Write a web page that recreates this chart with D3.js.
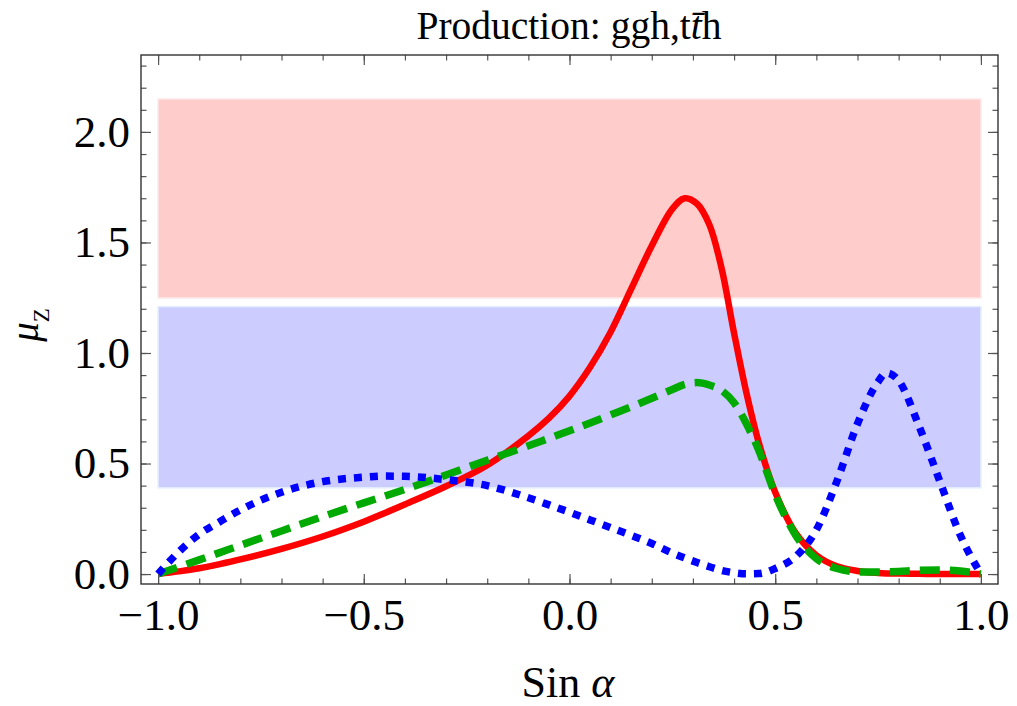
<!DOCTYPE html>
<html>
<head>
<meta charset="utf-8">
<script src="https://cdn.jsdelivr.net/npm/d3@7"></script>
<style>
  html, body { margin: 0; padding: 0; background: #fff; }
  svg { display: block; }
  text { font-family: 'Liberation Serif', 'Times New Roman', serif; fill: #000; }
</style>
</head>
<body>
<div id="chart"></div>
<script>
// shared x grid (Sin α) and the three curves
const sinAlpha = [-1, -0.95, -0.9, -0.85, -0.8, -0.7, -0.6, -0.5, -0.45, -0.4, -0.3, -0.2, -0.1, -0.05, 0,
  0.05, 0.1, 0.15, 0.2, 0.25, 0.28, 0.31, 0.34, 0.37, 0.4, 0.43, 0.46, 0.5, 0.55, 0.6, 0.65,
  0.7, 0.75, 0.77, 0.8, 0.85, 0.9, 0.95, 1]

const muRed = [0, 0.012, 0.026, 0.045, 0.066, 0.114, 0.17, 0.237, 0.275, 0.315, 0.397, 0.492, 0.625, 0.705, 0.805,
  0.935, 1.095, 1.29, 1.485, 1.652, 1.70, 1.675, 1.58, 1.38, 1.09, 0.82, 0.595, 0.37, 0.185, 0.085, 0.035,
  0.014, 0.005, 0.003, 0.002, 0.001, 0, 0, 0]

const muGreen = [0, 0.032, 0.064, 0.097, 0.13, 0.195, 0.26, 0.322, 0.352, 0.383, 0.448, 0.515, 0.58, 0.614, 0.648,
  0.683, 0.72, 0.757, 0.795, 0.835, 0.858, 0.866, 0.855, 0.83, 0.775, 0.68, 0.56, 0.36, 0.175, 0.07, 0.025,
  0.01, 0.009, 0.01, 0.012, 0.017, 0.018, 0.014, 0]

const muBlue = [0, 0.10, 0.18, 0.237, 0.29, 0.37, 0.418, 0.438, 0.443, 0.442, 0.427, 0.40, 0.345, 0.313, 0.28,
  0.245, 0.21, 0.175, 0.138, 0.095, 0.073, 0.052, 0.033, 0.016, 0.006, 0.001, 0.002, 0.025, 0.08, 0.2, 0.42,
  0.68, 0.87, 0.91, 0.875, 0.667, 0.42, 0.175, 0]

// shaded bands: [low, high] in μ_Z, spanning Sin α from -1 to 1
const bandNames = ['upper', 'lower']
const bandLow   = [1.249, 0.39]
const bandHigh  = [2.149, 1.21]
const bandFill  = ['#ffcccc', '#ccccff']
const bandEdge  = ['#ffe6e6', '#e3eeff']

const xMajor = [-1, -0.5, 0, 0.5, 1]
const xMinor = d3.range(-10, 11).map(i => i / 10)
const yMajor = [0, 0.5, 1, 1.5, 2]
const yMinor = d3.range(0, 24).map(i => i / 10)

const W = 1017, H = 706
const frame = { left: 141, right: 998, top: 55, bottom: 584 }

const svg = d3.select('#chart').append('svg')
  .attr('width', W).attr('height', H)

const x = d3.scaleLinear().domain([-1.0415, 1.0415]).range([frame.left, frame.right])
const y = d3.scaleLinear().domain([-0.045, 2.348]).range([frame.bottom, frame.top])

// bands
svg.append('g').selectAll('rect')
  .data(bandNames)
  .join('rect')
  .attr('x', x(-1))
  .attr('width', x(1) - x(-1))
  .attr('y', (d, i) => y(bandHigh[i]))
  .attr('height', (d, i) => y(bandLow[i]) - y(bandHigh[i]))
  .attr('fill', (d, i) => bandFill[i])
  .attr('stroke', (d, i) => bandEdge[i])
  .attr('stroke-width', 1.5)

// curves
const rows = sinAlpha.map((s, i) => ({ s, red: muRed[i], green: muGreen[i], blue: muBlue[i] }))
const series = [
  { key: 'red',   color: '#ff0000', dash: null,    width: 6.5, curve: d3.curveCatmullRom.alpha(0.5) },
  { key: 'green', color: '#00aa00', dash: '20,10', width: 7.5, curve: d3.curveMonotoneX },
  { key: 'blue',  color: '#0000ff', dash: '8,8',   width: 7.5, curve: d3.curveMonotoneX }
]

svg.append('clipPath').attr('id', 'plot-clip')
  .append('rect')
  .attr('x', frame.left).attr('y', frame.top)
  .attr('width', frame.right - frame.left).attr('height', frame.bottom - frame.top)

const curves = svg.append('g').attr('clip-path', 'url(#plot-clip)')
series.forEach(sr => {
  const line = d3.line()
    .x(d => x(d.s))
    .y(d => y(d[sr.key]))
    .curve(sr.curve)
  curves.append('path')
    .datum(rows)
    .attr('d', line)
    .attr('fill', 'none')
    .attr('stroke', sr.color)
    .attr('stroke-width', sr.width)
    .attr('stroke-dasharray', sr.dash)
    .attr('stroke-linejoin', 'round')
})

// frame ticks (inward, all four sides)
const fmt = v => (v < 0 ? '\u2212' : '') + Math.abs(v).toFixed(1)
const tickStyle = ax => {
  ax.select('.domain').remove()
  ax.selectAll('line').attr('stroke', '#555').attr('stroke-width', 1.2)
  ax.selectAll('text').style('font-size', '45px').attr('fill', '#000')
}

svg.append('g').attr('transform', `translate(0,${frame.bottom})`)
  .call(d3.axisBottom(x).tickValues(xMinor).tickSize(-5.5).tickFormat(''))
  .call(tickStyle)
svg.append('g').attr('transform', `translate(0,${frame.bottom})`)
  .call(d3.axisBottom(x).tickValues(xMajor).tickSize(-10).tickPadding(14).tickFormat(fmt))
  .call(tickStyle)
svg.append('g').attr('transform', `translate(0,${frame.top})`)
  .call(d3.axisTop(x).tickValues(xMinor).tickSize(-5.5).tickFormat(''))
  .call(tickStyle)
svg.append('g').attr('transform', `translate(0,${frame.top})`)
  .call(d3.axisTop(x).tickValues(xMajor).tickSize(-10).tickFormat(''))
  .call(tickStyle)

svg.append('g').attr('transform', `translate(${frame.left},0)`)
  .call(d3.axisLeft(y).tickValues(yMinor).tickSize(-5.5).tickFormat(''))
  .call(tickStyle)
svg.append('g').attr('transform', `translate(${frame.left},0)`)
  .call(d3.axisLeft(y).tickValues(yMajor).tickSize(-10).tickPadding(11).tickFormat(fmt))
  .call(tickStyle)
svg.append('g').attr('transform', `translate(${frame.right},0)`)
  .call(d3.axisRight(y).tickValues(yMinor).tickSize(-5.5).tickFormat(''))
  .call(tickStyle)
svg.append('g').attr('transform', `translate(${frame.right},0)`)
  .call(d3.axisRight(y).tickValues(yMajor).tickSize(-10).tickFormat(''))
  .call(tickStyle)

// frame
svg.append('rect')
  .attr('x', frame.left).attr('y', frame.top)
  .attr('width', frame.right - frame.left).attr('height', frame.bottom - frame.top)
  .attr('fill', 'none').attr('stroke', '#333').attr('stroke-width', 1.4)

// title
const title = svg.append('text')
  .attr('x', 569).attr('y', 39)
  .attr('text-anchor', 'middle')
  .style('font-size', '39.5px')
title.append('tspan').text('Production: ggh,t')
title.append('tspan').style('font-style', 'italic').text('t\u0304')
title.append('tspan').text('h')

// x label
const xl = svg.append('text')
  .attr('x', 568).attr('y', 697)
  .attr('text-anchor', 'middle')
  .style('font-size', '44px')
xl.append('tspan').text('Sin ')
xl.append('tspan').style('font-style', 'italic').text('\u03b1')

// y label
const yl = svg.append('text')
  .attr('transform', 'translate(38,325) rotate(-90)')
  .attr('text-anchor', 'middle')
  .style('font-size', '39px')
yl.append('tspan').style('font-style', 'italic').text('\u03bc')
yl.append('tspan').attr('dy', 11).style('font-size', '23px').text('Z')
</script>
</body>
</html>
